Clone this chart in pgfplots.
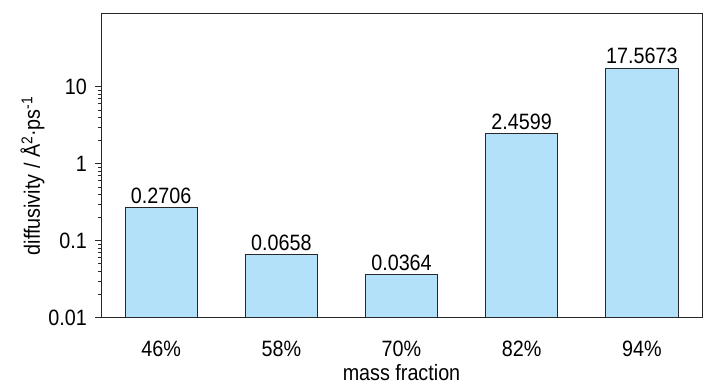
\documentclass[border=0pt]{standalone}
\usepackage{pgfplots}
\pgfplotsset{compat=1.18}
\usepackage{fontspec}
\setmainfont[FakeStretch=0.89]{Liberation Sans}
\definecolor{barfill}{RGB}{180,225,250}
\definecolor{edge}{RGB}{40,40,40}
\newcommand\chartfont{\fontsize{22.2bp}{26bp}\selectfont}
\begin{document}
\chartfont
\begin{tikzpicture}
\begin{axis}[
  scale only axis,
  width=601bp, height=304.4bp,
  ymode=log,
  log origin=infty,
  ymin=0.01, ymax=90,
  xmin=-0.5, xmax=4.5,
  ybar, bar width=0.6,
  xtick={0,1,2,3,4},
  xticklabels={46\%,58\%,70\%,82\%,94\%},
  ytick={0.01,0.1,1,10},
  yticklabels={0.01,0.1,1,10},
  minor ytick={},
  /pgf/number format/assume math mode=true,
  ytick pos=left,
  xtick pos=bottom,
  tick align=outside,
  major tick length=5.5bp,
  x tick style={draw=none},
  y tick style={line width=0.8bp, color=edge},
  axis line style={line width=0.9bp, color=edge},
  xticklabel style={yshift=-10bp, font=\chartfont},
  yticklabel style={xshift=-1bp, font=\chartfont},
  xlabel={mass fraction},
  xlabel style={at={(axis description cs:0.5,0)}, anchor=center, yshift=-55bp, font=\chartfont},
  ylabel={diffusivity / Å\textsuperscript{2}·ps\textsuperscript{-1}},
  ylabel style={at={(axis description cs:-0.1015,0.466)}, anchor=base, font=\chartfont},
  point meta=explicit symbolic,
  nodes near coords,
  nodes near coords style={anchor=south, inner sep=3.5bp, font=\chartfont},
  clip=false,
]
\addplot[fill=barfill, draw=edge, line width=0.8bp] coordinates {
  (0,0.2706) [0.2706]
  (1,0.0658) [0.0658]
  (2,0.0364) [0.0364]
  (3,2.4599) [2.4599]
  (4,17.5673) [17.5673]
};
\end{axis}
\useasboundingbox ([xshift=-101bp,yshift=-72.3bp]current axis.south west) rectangle ([xshift=26bp,yshift=13.3bp]current axis.north east);
\end{tikzpicture}
\end{document}
